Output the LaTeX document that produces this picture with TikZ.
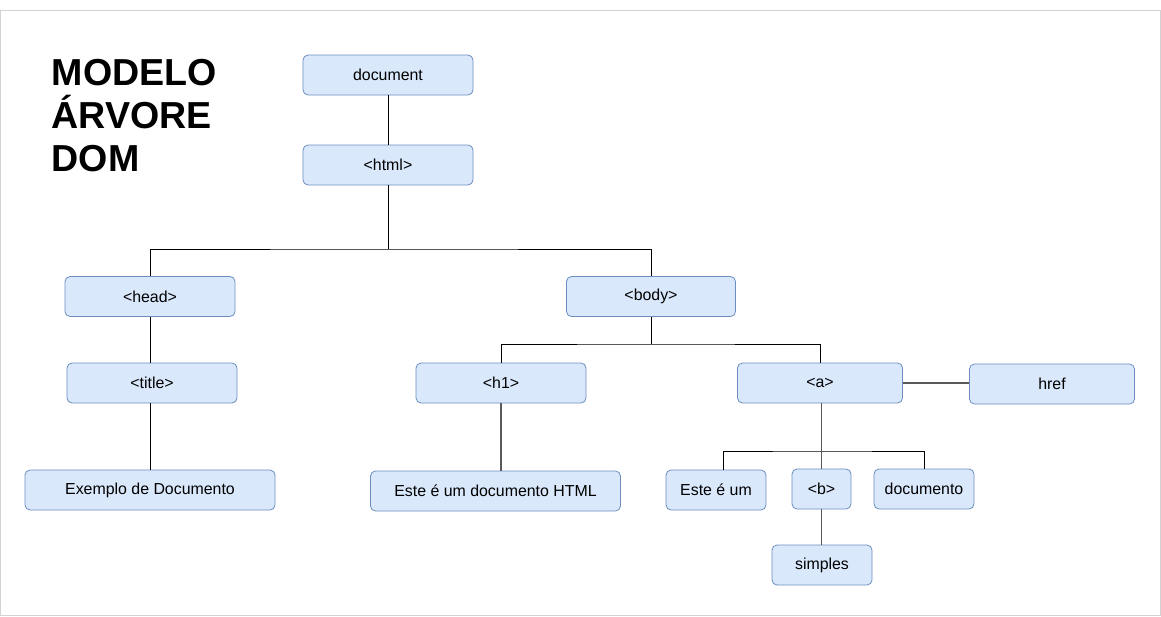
\documentclass[tikz,border=0pt]{standalone}
\usepackage{fontspec}
\setmainfont{Liberation Sans}
\usetikzlibrary{positioning}
\definecolor{boxfill}{RGB}{218,232,252}
\definecolor{boxline}{RGB}{108,142,191}
\definecolor{edgegray}{RGB}{90,90,90}
\definecolor{framegray}{RGB}{210,210,210}

\tikzset{
  elem/.style={draw=boxline, fill=boxfill, rounded corners=5pt, line width=0.8pt,
    minimum height=40pt, inner sep=0pt, font=\fontsize{15.9}{19}\selectfont},
  tree/.style={draw=black, line width=0.9pt},
  link/.style={draw=edgegray, line width=1.1pt}
}

\begin{document}
\begin{tikzpicture}[x=1pt, y=-1pt]

\useasboundingbox (0, 0) rectangle (1161, 616);
\draw[framegray, line width=1pt] (0.5, 10.5) rectangle (1160.5, 615.5);

\node[anchor=north west, inner sep=0pt, align=left, font=\fontsize{37.6}{43}\selectfont\bfseries] (heading) at (51.5, 59.5) {MODELO\\ÁRVORE\\DOM};

\node[elem, minimum width=170pt] (document) at (388, 75) {document};
\node[elem, minimum width=170pt] (html) at (388, 165) {<html>};
\node[elem, minimum width=170pt] (head) at (150, 296.5) {<head>};
\node[elem, minimum width=169pt] (body) at (651, 296.5) {<body>};
\node[elem, minimum width=170pt] (title) at (152, 383) {<title>};
\node[elem, minimum width=170pt] (h1) at (501, 383) {<h1>};
\node[elem, minimum width=165pt] (a) at (820, 383) {<a>};
\node[elem, minimum width=165pt] (href) at (1052, 384) {href};
\node[elem, minimum width=250pt] (exemplo) at (150, 490) {Exemplo de Documento};
\node[elem, minimum width=250pt] (h1text) at (495.5, 491) {Este é um documento HTML};
\node[elem, minimum width=100pt] (esteum) at (716, 490) {Este é um};
\node[elem, minimum width=59pt] (b) at (821.5, 489) {<b>};
\node[elem, minimum width=100pt] (documento) at (924, 489) {documento};
\node[elem, minimum width=100pt] (simples) at (822, 565) {simples};

\coordinate (j1) at (388, 249);
\coordinate (j2) at (651, 344);
\coordinate (j3) at (821, 451);

\draw[tree] (document) -- (html);
\draw[tree] (html.south) -- (j1);
\draw[tree] (head.north) |- (j1) -| (body.north);
\draw[tree] (head.south) -- (head.south |- title.north);
\draw[tree] (head.south |- title.south) -- (head.south |- exemplo.north);
\draw[tree] (body.south) -- (j2);
\draw[tree] (h1.north) |- (j2) -| (a.north);
\draw[tree] ([xshift=7pt]esteum.north) |- (j3) -| (documento.north);

\draw[link] (h1.south) -- (h1.south |- h1text.north);
\draw[link] (a.east) -- (a.east -| href.west);
\draw[link] (a.south -| b.north) -- (b.north);
\draw[link] (b.south) -- (b.south |- simples.north);

\end{tikzpicture}
\end{document}
